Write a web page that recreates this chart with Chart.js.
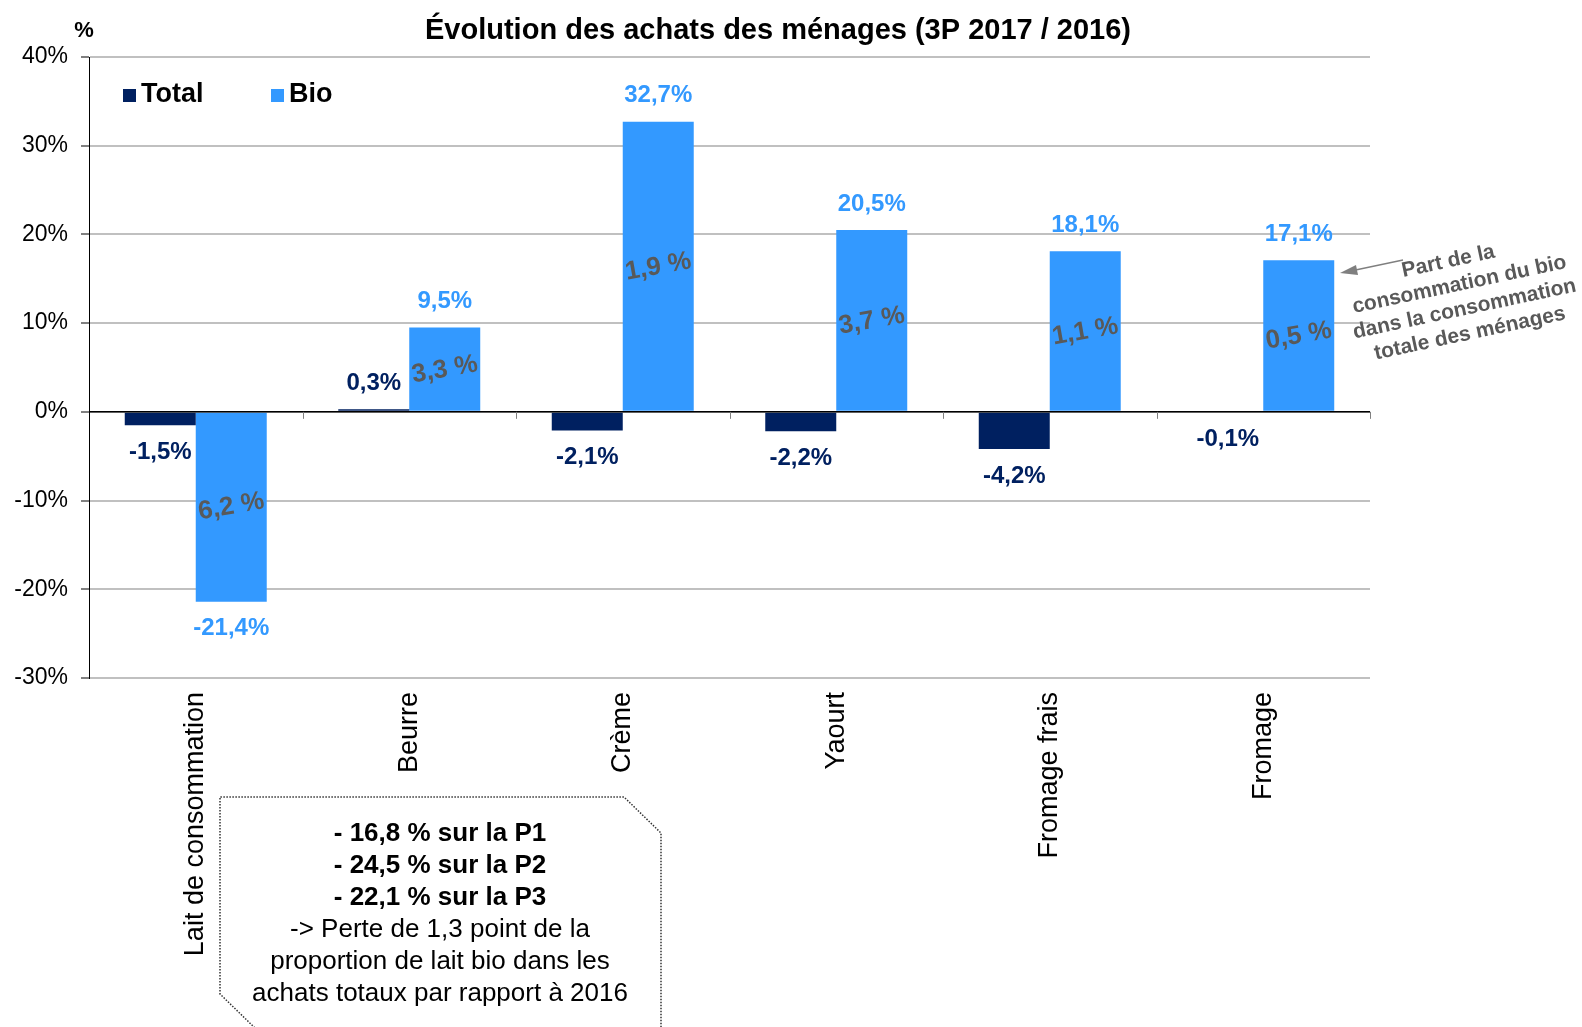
<!DOCTYPE html>
<html>
<head>
<meta charset="utf-8">
<script src="https://cdn.jsdelivr.net/npm/chart.js@4"></script>
<style>
  html, body { margin: 0; padding: 0; background: #fff; }
  #grafico { display: block; }
</style>
</head>
<body>
<canvas id="grafico" width="1582" height="1027"></canvas>
<script>
const categories = ['Lait de consommation', 'Beurre', 'Crème', 'Yaourt', 'Fromage frais', 'Fromage'];
const totalValues = [-1.5, 0.3, -2.1, -2.2, -4.2, -0.1];
const bioValues = [-21.4, 9.5, 32.7, 20.5, 18.1, 17.1];
const bioShare = ['6,2 %', '3,3 %', '1,9 %', '3,7 %', '1,1 %', '0,5 %'];
const yTicks = [40, 30, 20, 10, 0, -10, -20, -30];
const boxLines = ['- 16,8 % sur la P1', '- 24,5 % sur la P2', '- 22,1 % sur la P3',
  '-> Perte de 1,3 point de la', 'proportion de lait bio dans les', 'achats totaux par rapport à 2016'];
const noteLines = ['Part de la', 'consommation du bio', 'dans la consommation', 'totale des ménages'];

const FONT = '"Liberation Sans", Arial, sans-serif';
const NAVY = '#002060';
const BLUE = '#3399ff';
const GREY = '#595959';

const fmt = (v) => v.toFixed(1).replace('.', ',') + '%';

// labels, legend, titre et annotations
const decorations = {
  id: 'decorations',
  afterDatasetsDraw(chart) {
    const ctx = chart.ctx;
    const y = chart.scales.y;
    const area = chart.chartArea;
    const zero = y.getPixelForValue(0);
    ctx.save();

    // ligne du zero + graduations
    ctx.strokeStyle = '#000';
    ctx.lineWidth = 1.5;
    ctx.beginPath();
    ctx.moveTo(area.left, zero);
    ctx.lineTo(area.right, zero);
    ctx.stroke();
    ctx.strokeStyle = '#808080';
    ctx.lineWidth = 1;
    const step = (area.right - area.left) / categories.length;
    for (let i = 1; i <= categories.length; i++) {
      const x = Math.round(area.left + step * i) + 0.5;
      ctx.beginPath();
      ctx.moveTo(x, zero);
      ctx.lineTo(x, zero + 7);
      ctx.stroke();
    }

    // valeurs
    ctx.font = 'bold 24px ' + FONT;
    ctx.textAlign = 'center';
    ctx.textBaseline = 'middle';
    [0, 1].forEach((d) => {
      const meta = chart.getDatasetMeta(d);
      const values = d === 0 ? totalValues : bioValues;
      ctx.fillStyle = d === 0 ? NAVY : BLUE;
      meta.data.forEach((bar, i) => {
        const v = values[i];
        const end = y.getPixelForValue(v);
        const ly = v >= 0 ? end - 26 : end + 27;
        ctx.fillText(fmt(v), bar.x, ly);
      });
    });

    // part du bio dans les barres
    ctx.fillStyle = GREY;
    ctx.font = 'bold 26px ' + FONT;
    const bioMeta = chart.getDatasetMeta(1);
    bioMeta.data.forEach((bar, i) => {
      const mid = (y.getPixelForValue(bioValues[i]) + zero) / 2;
      ctx.save();
      ctx.translate(bar.x, mid);
      ctx.rotate(-10 * Math.PI / 180);
      ctx.fillText(bioShare[i], 0, 0);
      ctx.restore();
    });

    // titre
    ctx.fillStyle = '#000';
    ctx.font = 'bold 29px ' + FONT;
    ctx.fillText('Évolution des achats des ménages (3P 2017 / 2016)', 778, 31);
    ctx.font = 'bold 22px ' + FONT;
    ctx.fillText('%', 84, 31);

    // legende
    ctx.textAlign = 'left';
    ctx.font = 'bold 27px ' + FONT;
    chart.data.datasets.forEach((ds, i) => {
      const x0 = [123, 271][i];
      ctx.fillStyle = ds.backgroundColor;
      ctx.fillRect(x0, 89, 13, 13);
      ctx.fillStyle = '#000';
      ctx.fillText(ds.label, x0 + 18, 95);
    });

    // note a droite
    ctx.strokeStyle = '#7f7f7f';
    ctx.fillStyle = '#7f7f7f';
    ctx.lineWidth = 1.5;
    ctx.beginPath();
    ctx.moveTo(1403, 260);
    ctx.lineTo(1346, 272);
    ctx.stroke();
    ctx.beginPath();
    ctx.moveTo(1340, 273);
    ctx.lineTo(1356, 265);
    ctx.lineTo(1358, 275);
    ctx.closePath();
    ctx.fill();
    ctx.save();
    ctx.translate(1462, 297);
    ctx.rotate(-12 * Math.PI / 180);
    ctx.fillStyle = GREY;
    ctx.textAlign = 'center';
    ctx.font = 'bold 21px ' + FONT;
    noteLines.forEach((t, i) => {
      ctx.fillText(t, i === 0 ? -6 : 0, (i - 1.5) * 25);
    });
    ctx.restore();

    // encadre en pointilles
    ctx.strokeStyle = '#333';
    ctx.lineWidth = 1.5;
    ctx.setLineDash([1.5, 1.5]);
    ctx.beginPath();
    ctx.moveTo(257, 1030);
    ctx.lineTo(220, 994);
    ctx.lineTo(220, 797);
    ctx.lineTo(624, 797);
    ctx.lineTo(661, 833);
    ctx.lineTo(661, 1030);
    ctx.stroke();
    ctx.setLineDash([]);
    ctx.fillStyle = '#000';
    ctx.textAlign = 'center';
    boxLines.forEach((t, i) => {
      ctx.font = (i < 3 ? 'bold ' : '') + '26px ' + FONT;
      ctx.fillText(t, 440, 834 + i * 32);
    });

    ctx.restore();
  }
};

const config = {
  type: 'bar',
  data: {
    labels: categories,
    datasets: [
      { label: 'Total', data: totalValues, backgroundColor: NAVY },
      { label: 'Bio', data: bioValues, backgroundColor: BLUE }
    ]
  },
  options: {
    responsive: false,
    animation: false,
    layout: { padding: { left: 0, right: 212, top: 57, bottom: 0 } },
    datasets: { bar: { categoryPercentage: 0.665, barPercentage: 1 } },
    plugins: { legend: { display: false }, tooltip: { enabled: false } },
    scales: {
      x: {
        grid: { display: false },
        border: { display: false },
        ticks: {
          color: '#000',
          font: { family: FONT, size: 27 },
          minRotation: 90,
          maxRotation: 90,
          padding: 6
        },
        afterFit: (scale) => { scale.height = 349; }
      },
      y: {
        min: -30,
        max: 40,
        afterBuildTicks: (scale) => { scale.ticks = yTicks.map((v) => ({ value: v })); },
        grid: { color: '#c0c0c0', lineWidth: 2, tickColor: '#808080', tickLength: 8 },
        border: { color: '#000', width: 1 },
        ticks: {
          color: '#000',
          font: { family: FONT, size: 23 },
          padding: 13,
          callback: (v) => v + '%'
        },
        afterFit: (scale) => { scale.width = 89; }
      }
    }
  },
  plugins: [decorations]
};

const myChart = new Chart(document.getElementById('grafico'), config);
</script>
</body>
</html>
